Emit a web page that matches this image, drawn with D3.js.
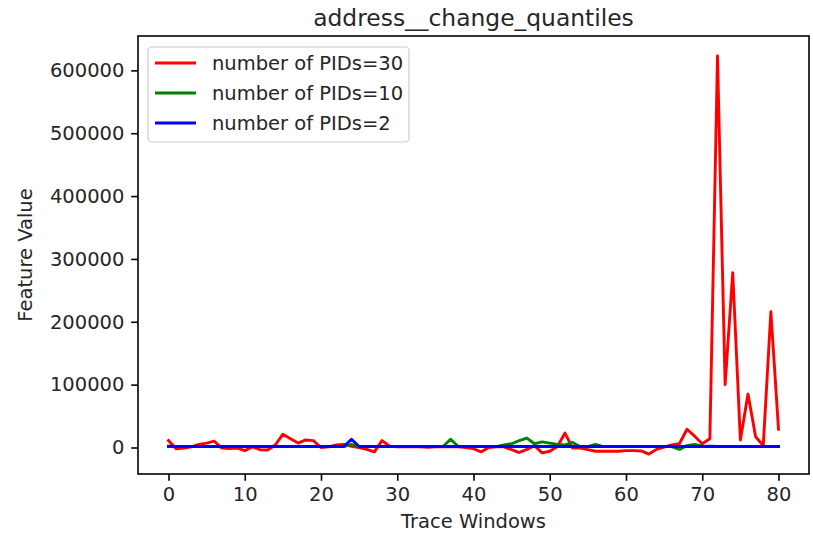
<!DOCTYPE html>
<html>
<head>
<meta charset="utf-8">
<script src="https://cdn.jsdelivr.net/npm/d3@7"></script>
<style>
  html, body { margin: 0; padding: 0; background: #ffffff; }
  svg { display: block; font-family: "DejaVu Sans", sans-serif; }
</style>
</head>
<body>
<svg id="chart" width="813" height="534"></svg>
<script>
// ---- data ----
const titleText = "address__change_quantiles";
const xLabel = "Trace Windows";
const yLabel = "Feature Value";
const seriesNames = ["number of PIDs=30", "number of PIDs=10", "number of PIDs=2"];
const seriesColors = ["#ff0000", "#008000", "#0000ff"];
const xTicks = [0, 10, 20, 30, 40, 50, 60, 70, 80];
const yTicks = [0, 100000, 200000, 300000, 400000, 500000, 600000];

const pids30 = [
  11000, -2000, -1000, 1000, 5000, 7000, 10000, -1000, -1500, -1000,
  -5000, 1000, -3500, -4000, 4000, 21000, 14000, 7000, 12000, 11000,
  0, 1000, 4000, 5000, 2000, 0, -3000, -7000, 11000, 2000,
  1000, 1000, 1500, 1000, 500, 1000, 1000, 1000, 1000, 0,
  -2000, -7000, 0, 1000, 1000, -3500, -8000, -3000, 3000, -8500,
  -6000, 1500, 23000, -1000, -1000, -3500, -6000, -6000, -6000, -6000,
  -5000, -5000, -5500, -10500, -3000, 500, 4000, 6000, 29000, 18000,
  6000, 14000, 623000, 100000, 278000, 12000, 85000, 17000, 3000, 216000,
  29000
];
const pids10 = [
  1500, 1500, 1500, 1500, 1500, 1500, 1500, 1500, 1500, 1500,
  1500, 1500, 1500, 1500, 1500, 1500, 1500, 1500, 1500, 1500,
  1500, 1500, 1500, 1500, 5000, 1500, 1500, 1500, 1500, 1500,
  1500, 1500, 1500, 1500, 1500, 1500, 1500, 13000, 1500, 1500,
  1500, 1500, 1500, 1500, 4000, 6000, 11000, 15000, 6000, 9000,
  7000, 5000, 4000, 8000, 1000, 1500, 5000, 1500, 1500, 1500,
  1500, 1500, 1500, 1500, 1500, 1500, 1500, -3000, 3000, 5000,
  2000, 1500, 1500, 1500, 1500, 1500, 1500, 1500, 1500, 1500,
  1500
];
const pids2 = [
  2000, 1500, 1500, 1500, 1500, 1500, 1500, 1500, 1500, 1500,
  1500, 1500, 1500, 1500, 1500, 1500, 1500, 1500, 1500, 1500,
  1500, 1500, 1500, 1500, 13000, 1500, 1500, 1500, 1500, 1500,
  1500, 1500, 1500, 1500, 1500, 1500, 1500, 1500, 1500, 1500,
  1500, 1500, 1500, 1500, 1500, 1500, 1500, 1500, 1500, 1500,
  1500, 1500, 1500, 1500, 1500, 1500, 1500, 1500, 1500, 1500,
  1500, 1500, 1500, 1500, 1500, 1500, 1500, 1500, 1500, 1500,
  1500, 2000, 1500, 1500, 1500, 1500, 1500, 1500, 1500, 1500,
  1500
];
const allSeries = [pids30, pids10, pids2];

(function () {
  // ---- layout ----
  const svg = d3.select("#chart");
  const L = 138, R = 809, T = 36, B = 474;
  const fs = 19.5;

  const xs = d3.range(pids30.length);
  const xExt = d3.extent(xs);
  const xPad = (xExt[1] - xExt[0]) * 0.05;
  const x = d3.scaleLinear().domain([xExt[0] - xPad, xExt[1] + xPad]).range([L, R]);

  const allVals = allSeries.flat();
  const yExt = d3.extent(allVals);
  const yPad = (yExt[1] - yExt[0]) * 0.05;
  const y = d3.scaleLinear().domain([yExt[0] - yPad, yExt[1] + yPad]).range([B, T]);

  svg.append("defs").append("clipPath").attr("id", "clip")
    .append("rect").attr("x", L).attr("y", T).attr("width", R - L).attr("height", B - T);

  const line = d3.line().x((d, i) => x(i)).y(d => y(d));
  const g = svg.append("g").attr("clip-path", "url(#clip)");
  allSeries.forEach((s, k) => {
    g.append("path").datum(s)
      .attr("d", line)
      .attr("fill", "none")
      .attr("stroke", seriesColors[k])
      .attr("stroke-width", 2.9)
      .attr("stroke-linejoin", "round")
      .attr("stroke-linecap", "square");
  });

  const xAxis = d3.axisBottom(x).tickValues(xTicks).tickFormat(d3.format("d")).tickSize(6.8).tickPadding(6.8);
  const yAxis = d3.axisLeft(y).tickValues(yTicks).tickFormat(d3.format("d")).tickSize(6.8).tickPadding(6.8);

  const gx = svg.append("g").attr("transform", `translate(0,${B})`).call(xAxis);
  const gy = svg.append("g").attr("transform", `translate(${L},0)`).call(yAxis);
  [gx, gy].forEach(ax => {
    ax.select(".domain").remove();
    ax.selectAll(".tick line").attr("stroke", "#000").attr("stroke-width", 1.6);
    ax.selectAll(".tick text").attr("fill", "#262626").attr("font-size", fs).attr("font-family", "DejaVu Sans");
  });

  svg.append("rect")
    .attr("x", L).attr("y", T).attr("width", R - L).attr("height", B - T)
    .attr("fill", "none").attr("stroke", "#000").attr("stroke-width", 1.6);

  svg.append("text").attr("x", (L + R) / 2).attr("y", 26)
    .attr("text-anchor", "middle").attr("font-size", 23.4).attr("fill", "#262626").text(titleText);
  svg.append("text").attr("x", (L + R) / 2).attr("y", 528)
    .attr("text-anchor", "middle").attr("font-size", fs).attr("fill", "#262626").text(xLabel);
  svg.append("text").attr("transform", `translate(32,${(T + B) / 2}) rotate(-90)`)
    .attr("text-anchor", "middle").attr("font-size", fs).attr("fill", "#262626").text(yLabel);

  const lg = svg.append("g");
  const lx = 148, ly = 47, lw = 261, lh = 95;
  lg.append("rect").attr("x", lx).attr("y", ly).attr("width", lw).attr("height", lh)
    .attr("rx", 4).attr("ry", 4)
    .attr("fill", "#ffffff").attr("fill-opacity", 0.8)
    .attr("stroke", "#cccccc").attr("stroke-width", 1.2);
  const rowY = [63, 93, 123];
  seriesNames.forEach((name, k) => {
    lg.append("line").attr("x1", 155).attr("x2", 196).attr("y1", rowY[k]).attr("y2", rowY[k])
      .attr("stroke", seriesColors[k]).attr("stroke-width", 2.9);
    lg.append("text").attr("x", 212).attr("y", rowY[k] + 7)
      .attr("font-size", fs).attr("fill", "#262626").text(name);
  });
})();
</script>
</body>
</html>
